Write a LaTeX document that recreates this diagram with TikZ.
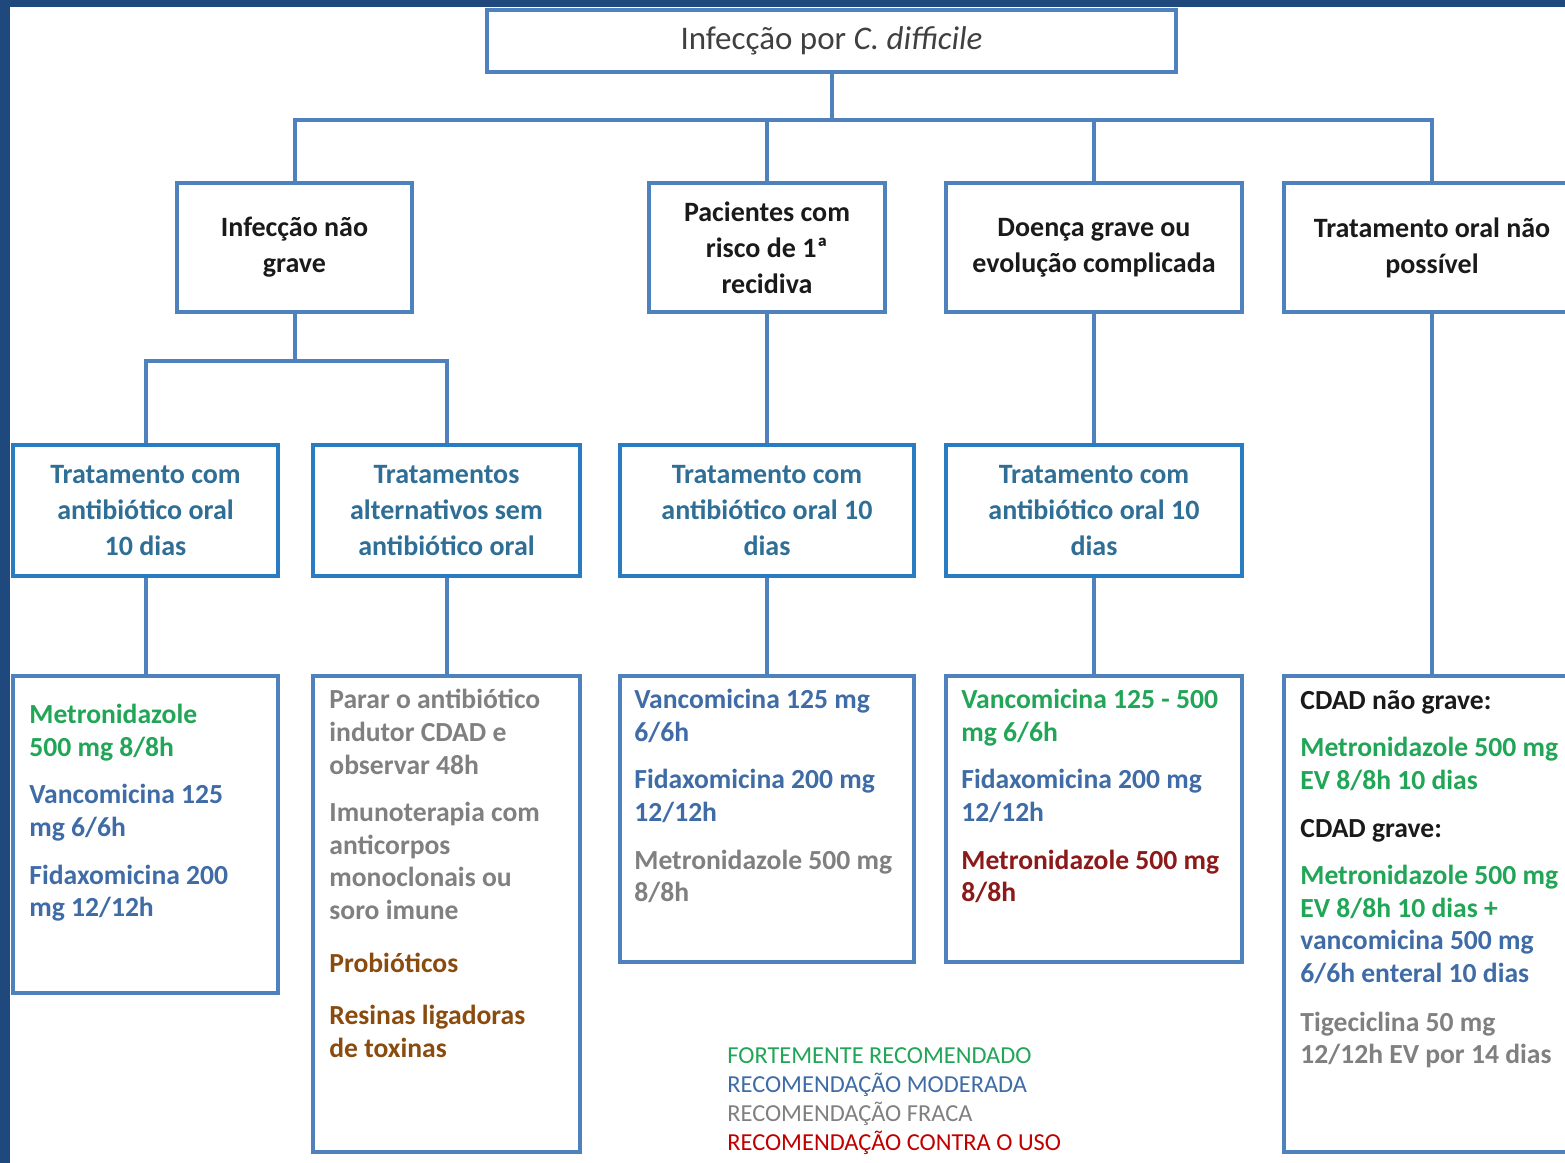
\documentclass[tikz,border=0pt]{standalone}
\usepackage{fontspec}
\setmainfont{Carlito}
\usepackage{xcolor}
\usepackage{tikz}
\usetikzlibrary{calc,positioning}
\definecolor{marinho}{HTML}{1F497D}
\definecolor{aco}{HTML}{4F81BD}
\definecolor{azulvivo}{HTML}{2A7CC2}
\definecolor{azultrat}{HTML}{2F6E95}
\definecolor{verde}{HTML}{21A556}
\definecolor{azulmod}{HTML}{3F6CA6}
\definecolor{cinza}{HTML}{808080}
\definecolor{marrom}{HTML}{8A4B0F}
\definecolor{vinho}{HTML}{8C1A1A}
\definecolor{vermelho}{HTML}{C00000}
\definecolor{quasepreto}{HTML}{1A1A1A}
\definecolor{grafite}{HTML}{404040}
\tikzset{
  caixa/.style={draw=aco,line width=2pt,fill=white,inner sep=0pt,align=center},
  nivel/.style={caixa,text=quasepreto,font=\fontsize{14}{18}\selectfont\bfseries},
  trat/.style={caixa,draw=azulvivo,text=azultrat,font=\fontsize{14}{18}\selectfont\bfseries},
  lig/.style={aco,line width=2pt},
  txt/.style={anchor=north west,inner sep=0pt,font=\fontsize{13.8}{16.3}\selectfont\bfseries}
}
\newcommand{\bloco}[2]{\parbox{#1}{\raggedright #2}}

\begin{document}
\begin{tikzpicture}[x=0.5pt,y=-0.5pt]
\useasboundingbox (0,0) rectangle (1565,1163);
\clip (0,0) rectangle (1565,1163);
\fill[marinho] (0,0) rectangle (1565,1163);
\fill[white] (10,7) rectangle (1565,1163);
% raiz
\node[caixa,minimum width=344.5pt,minimum height=31pt,text=grafite,font=\fontsize{16.5}{18}\selectfont] (raiz) at (831.5,41) {Infecção por \textit{C. difficile}};
% segundo nivel
\node[nivel,minimum width=117.5pt,minimum height=64.5pt] (ngrave) at (294.5,247.5) {Infecção não\\grave};
\node[nivel,minimum width=118pt,minimum height=64.5pt] (recid) at (767,247.5) {Pacientes com\\risco de 1ª\\recidiva};
\node[nivel,minimum width=148pt,minimum height=64.5pt] (grave) at (1094,247.5) {Doença grave ou\\evolução complicada};
\node[nivel,minimum width=148pt,minimum height=64.5pt] (naoral) at (1432,247.5) {Tratamento oral não\\possível};
% terceiro nivel
\node[trat,minimum width=132.5pt,minimum height=65.5pt] (atbA) at (145.5,510.5) {Tratamento com\\antibiótico oral\\10 dias};
\node[trat,minimum width=133.5pt,minimum height=65.5pt] (alt) at (446.5,510.5) {Tratamentos\\alternativos sem\\antibiótico oral};
\node[trat,minimum width=147pt,minimum height=65.5pt] (atbB) at (767,510.5) {Tratamento com\\antibiótico oral 10\\dias};
\node[trat,minimum width=148pt,minimum height=65.5pt] (atbC) at (1094,510.5) {Tratamento com\\antibiótico oral 10\\dias};
% quarto nivel
\node[caixa,minimum width=132.5pt,minimum height=158.5pt] (rxA) at (145.5,834.5) {};
\node[caixa,minimum width=133.5pt,minimum height=238pt] (rxAlt) at (446.5,914) {};
\node[caixa,minimum width=147pt,minimum height=143pt] (rxB) at (767,819) {};
\node[caixa,minimum width=148pt,minimum height=143pt] (rxC) at (1094,819) {};
\node[caixa,minimum width=148pt,minimum height=238pt] (rxD) at (1432,914) {};
% ligacoes
\coordinate (barra) at (831.5,120);
\coordinate (barraA) at (294.5,361);
\draw[lig] (raiz.south) -- (barra);
\foreach \n in {ngrave,recid,grave,naoral}
  \draw[lig] (barra) -| (\n.north);
\draw[lig] (ngrave.south) -- (barraA);
\draw[lig] (barraA) -| (atbA.north);
\draw[lig] (barraA) -| (alt.north);
\draw[lig] (recid.south) -- (atbB.north);
\draw[lig] (grave.south) -- (atbC.north);
\draw[lig] (naoral.south) -- (rxD.north);
\draw[lig] (atbA.south) -- (rxA.north);
\draw[lig] (alt.south) -- (rxAlt.north);
\draw[lig] (atbB.south) -- (rxB.north);
\draw[lig] (atbC.south) -- (rxC.north);
% textos das prescricoes
\node[txt] (tA) at ($(rxA.north west)+(18,30)$) {\bloco{120pt}{%
  {\color{verde}Metronidazole\\500 mg 8/8h}\\[7.5pt]
  {\color{azulmod}Vancomicina 125\\mg 6/6h}\\[7.5pt]
  {\color{azulmod}Fidaxomicina 200\\mg 12/12h}}};
\node[txt] (tAlt) at ($(rxAlt.north west)+(18,15)$) {\bloco{125pt}{%
  {\color{cinza}Parar o antibiótico\\indutor CDAD e\\observar 48h}\\[7.5pt]
  {\color{cinza}Imunoterapia com\\anticorpos\\monoclonais ou\\soro imune}\\[10pt]
  {\color{marrom}Probióticos}\\[10pt]
  {\color{marrom}Resinas ligadoras\\de toxinas}}};
\node[txt] (tB) at ($(rxB.north west)+(16,15)$) {\bloco{140pt}{%
  {\color{azulmod}Vancomicina 125 mg\\6/6h}\\[7.5pt]
  {\color{azulmod}Fidaxomicina 200 mg\\12/12h}\\[7.5pt]
  {\color{cinza}Metronidazole 500 mg\\8/8h}}};
\node[txt] (tC) at ($(rxC.north west)+(17,15)$) {\bloco{140pt}{%
  {\color{verde}Vancomicina 125 - 500\\mg 6/6h}\\[7.5pt]
  {\color{azulmod}Fidaxomicina 200 mg\\12/12h}\\[7.5pt]
  {\color{vinho}Metronidazole 500 mg\\8/8h}}};
\node[txt] (tD) at ($(rxD.north west)+(18,16)$) {\bloco{140pt}{%
  {\color{quasepreto}CDAD não grave:}\\[7.5pt]
  {\color{verde}Metronidazole 500 mg\\EV 8/8h 10 dias}\\[7.5pt]
  {\color{quasepreto}CDAD grave:}\\[7.5pt]
  {\color{verde}Metronidazole 500 mg\\EV 8/8h 10 dias +}\\
  {\color{azulmod}vancomicina 500 mg\\6/6h enteral 10 dias}\\[8pt]
  {\color{cinza}Tigeciclina 50 mg\\12/12h EV por 14 dias}}};
% legenda
\node[anchor=north west,inner sep=0pt,align=left,font=\fontsize{12.2}{14.5}\selectfont] (legenda) at (727,1047)
  {\textcolor{verde}{FORTEMENTE RECOMENDADO}\\
   \textcolor{azulmod}{RECOMENDAÇÃO MODERADA}\\
   \textcolor{cinza}{RECOMENDAÇÃO FRACA}\\
   \textcolor{vermelho}{RECOMENDAÇÃO CONTRA O USO}};
\end{tikzpicture}
\end{document}
